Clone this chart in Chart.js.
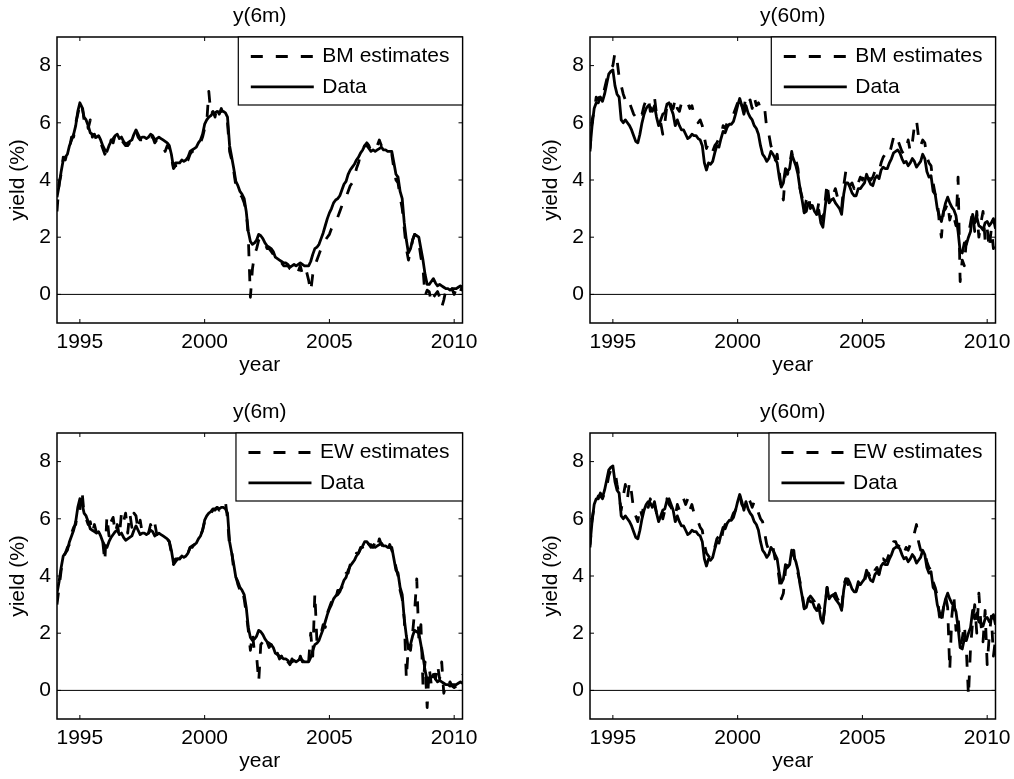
<!DOCTYPE html>
<html>
<head>
<meta charset="utf-8">
<script src="https://cdn.jsdelivr.net/npm/chart.js@4.4.1/dist/chart.umd.min.js"></script>
<style>
  html, body { margin: 0; padding: 0; background: #fff; }
  #fig { position: relative; width: 1014px; height: 779px; overflow: hidden; background: #fff; }
  #fig canvas { position: absolute; }
</style>
</head>
<body>
<div id="fig">
  <canvas id="p1" width="481" height="378" style="left:0px;top:0px"></canvas>
  <canvas id="p2" width="481" height="378" style="left:533px;top:0px"></canvas>
  <canvas id="p3" width="481" height="378" style="left:0px;top:396px"></canvas>
  <canvas id="p4" width="481" height="378" style="left:533px;top:396px"></canvas>
</div>
<script>
// Monthly observations, Feb 1994 .. May 2010
const startYear = 1994;
const startMonth = 2;
const nMonths = 196;
const dates = Array.from({ length: nMonths }, (_, i) => startYear + (startMonth - 1 + i) / 12);

const xTicks = [1995, 2000, 2005, 2010];
const yTicks = [0, 2, 4, 6, 8];

// 6-month yield (%), observed
const y6mData = [].concat(
  [3.4, 3.8, 4.3, 4.7, 4.8, 4.9, 5.2, 5.4, 5.6, 5.9, 6.4],
  [6.7, 6.55, 6.2, 6.1, 5.9, 5.65, 5.6, 5.55, 5.5, 5.55, 5.4, 5.2],
  [5.05, 5.0, 5.2, 5.35, 5.45, 5.55, 5.6, 5.45, 5.5, 5.35, 5.25, 5.3],
  [5.35, 5.4, 5.6, 5.75, 5.6, 5.45, 5.5, 5.5, 5.45, 5.5, 5.6, 5.55],
  [5.4, 5.45, 5.5, 5.45, 5.4, 5.35, 5.3, 5.2, 4.9, 4.45, 4.6, 4.6],
  [4.6, 4.7, 4.65, 4.7, 4.8, 5.0, 5.05, 5.1, 5.15, 5.3, 5.4, 5.6],
  [5.95, 6.1, 6.2, 6.25, 6.35, 6.35, 6.4, 6.35, 6.4, 6.4, 6.35, 6.2],
  [5.2, 4.8, 4.4, 3.95, 3.8, 3.6, 3.5, 3.35, 2.9, 2.2, 1.85, 1.75],
  [1.8, 1.9, 2.1, 2.05, 1.95, 1.8, 1.7, 1.65, 1.6, 1.5, 1.3, 1.25],
  [1.2, 1.15, 1.1, 1.1, 1.05, 0.95, 1.0, 1.05, 1.0, 1.05, 1.1, 1.05],
  [1.0, 1.0, 1.0, 1.15, 1.4, 1.6, 1.65, 1.75, 1.95, 2.15, 2.4, 2.65],
  [2.85, 3.0, 3.2, 3.3, 3.35, 3.45, 3.65, 3.85, 3.95, 4.2, 4.35, 4.45],
  [4.55, 4.7, 4.8, 4.95, 5.05, 5.2, 5.2, 5.1, 5.0, 5.05, 5.0, 5.05],
  [5.1, 5.15, 5.05, 5.05, 5.0, 5.0, 5.0, 4.6, 4.2, 4.1, 3.6, 3.35],
  [2.5, 1.9, 1.45, 1.6, 1.9, 2.1, 2.05, 2.0, 1.6, 1.2, 0.7, 0.35],
  [0.35, 0.45, 0.55, 0.4, 0.3, 0.35, 0.3, 0.25, 0.2, 0.2, 0.15, 0.2],
  [0.2, 0.2, 0.25, 0.3, 0.25]
);

// 6-month yield (%), BM estimates
const y6mBM = [].concat(
  [2.9, 3.9, 4.2, 4.8, 4.7, 5.0, 5.1, 5.5, 5.5, 6.0, 6.3],
  [6.6, 6.7, 6.1, 6.2, 5.8, 6.1, 5.5, 5.6, 5.4, 5.5, 5.3, 5.1],
  [4.9, 5.1, 5.1, 5.4, 5.3, 5.6, 5.5, 5.4, 5.4, 5.3, 5.2, 5.2],
  [5.3, 5.3, 5.5, 5.7, 5.5, 5.4, 5.4, 5.5, 5.4, 5.4, 5.5, 5.5],
  [5.3, 5.4, 5.4, 5.3, 5.2, 5.0, 5.2, 5.1, 4.8, 4.4, 4.5, 4.5],
  [4.5, 4.6, 4.6, 4.6, 4.7, 4.9, 5.0, 5.0, 5.1, 5.2, 5.3, 5.5],
  [5.8, 6.0, 7.1, 6.3, 6.4, 6.2, 6.6, 6.3, 6.5, 6.3, 6.2, 6.0],
  [5.0, 4.7, 4.3, 3.8, 3.7, 3.5, 3.4, 3.2, 2.9, 2.0, -0.1, 0.9],
  [1.4, 1.6, 1.9, 2.0, 1.9, 1.8, 1.6, 1.6, 1.5, 1.4, 1.2, 1.2],
  [1.1, 1.1, 1.0, 1.0, 1.0, 0.9, 0.9, 1.0, 0.9, 0.8, 1.0, 0.7],
  [0.9, 0.8, 0.5, 0.1, 0.7, 1.0, 1.2, 1.4, 1.6, 1.8, 1.9, 2.0],
  [2.1, 2.3, 2.4, 2.6, 2.7, 2.9, 3.1, 3.2, 3.4, 3.6, 3.8, 3.9],
  [4.1, 4.4, 4.6, 4.9, 5.1, 5.2, 5.3, 5.2, 5.0, 5.0, 5.1, 5.2],
  [5.4, 5.2, 5.1, 5.0, 5.0, 4.9, 4.9, 4.4, 4.0, 3.9, 3.4, 3.0],
  [2.3, 1.6, 1.2, 1.5, 1.9, 2.1, 1.9, 1.8, 1.3, 0.9, -0.05, 0.15],
  [0.1, -0.3, -0.1, 0.0, 0.1, -0.1, -0.45, -0.2, 0.15, 0.2, 0.05, 0.2],
  [0.0, 0.2, 0.3, 0.1, 0.3]
);

// 6-month yield (%), EW estimates
const y6mEW = [].concat(
  [3.0, 3.6, 4.2, 4.6, 4.8, 5.0, 5.1, 5.5, 5.7, 5.8, 6.3],
  [6.3, 7.0, 6.2, 6.0, 5.8, 5.9, 5.5, 5.8, 5.5, 5.4, 5.2, 5.2],
  [4.5, 6.1, 5.4, 5.9, 6.05, 5.5, 5.8, 5.4, 6.2, 5.9, 6.2, 5.5],
  [6.2, 5.7, 6.2, 6.1, 5.6, 5.95, 5.5, 5.6, 5.5, 5.5, 5.8, 5.6],
  [5.85, 5.45, 5.5, 5.4, 5.4, 5.3, 5.3, 5.2, 4.8, 4.4, 4.5, 4.6],
  [4.6, 4.7, 4.6, 4.7, 4.8, 5.0, 5.0, 5.1, 5.1, 5.3, 5.4, 5.6],
  [5.9, 6.1, 6.2, 6.2, 6.3, 6.3, 6.4, 6.3, 6.4, 6.5, 6.6, 6.0],
  [5.0, 4.9, 4.2, 4.0, 3.7, 3.5, 3.6, 3.2, 2.7, 2.1, 1.4, 2.0],
  [1.3, 1.2, 0.3, 1.6, 1.7, 1.5, 1.7, 1.5, 1.6, 1.3, 1.2, 1.3],
  [1.1, 1.2, 1.0, 1.15, 1.0, 0.9, 1.1, 1.0, 1.1, 0.95, 1.2, 1.0],
  [1.0, 1.2, 1.0, 2.0, 1.2, 3.4, 1.7, 1.9, 2.0, 2.3, 2.2, 2.7],
  [2.9, 3.1, 3.3, 3.2, 3.5, 3.5, 3.6, 3.9, 4.1, 4.1, 4.4, 4.5],
  [4.5, 4.8, 4.8, 5.0, 5.0, 5.3, 5.2, 5.1, 5.1, 5.0, 5.2, 5.0],
  [5.3, 5.1, 5.0, 5.1, 4.9, 5.1, 4.9, 4.7, 4.3, 4.0, 3.5, 3.2],
  [2.5, 0.4, 1.6, 1.4, 2.0, 2.8, 3.9, 1.8, 2.3, 0.2, 1.0, -0.6],
  [0.8, 0.2, 0.6, 0.4, 0.9, 0.4, 1.0, -0.1, 0.2, 0.1, 0.3, 0.15],
  [0.1, 0.15, 0.2, 0.3, 0.55]
);

// 60-month yield (%), observed
const y60mData = [].concat(
  [5.1, 5.9, 6.5, 6.7, 6.7, 6.9, 6.75, 7.0, 7.35, 7.7, 7.8],
  [7.85, 7.3, 7.0, 6.9, 6.1, 6.0, 6.1, 6.0, 5.9, 5.75, 5.55, 5.35],
  [5.3, 5.6, 6.0, 6.3, 6.5, 6.6, 6.55, 6.4, 6.6, 6.2, 5.9, 6.1],
  [6.3, 6.35, 6.65, 6.7, 6.5, 6.3, 5.9, 6.1, 5.9, 5.75, 5.75, 5.6],
  [5.45, 5.5, 5.6, 5.55, 5.55, 5.45, 5.4, 5.2, 4.6, 4.35, 4.6, 4.55],
  [4.65, 4.95, 5.2, 5.15, 5.45, 5.7, 5.65, 5.85, 5.95, 5.95, 6.05, 6.3],
  [6.6, 6.85, 6.6, 6.3, 6.6, 6.35, 6.2, 6.1, 5.9, 5.8, 5.6, 5.2],
  [4.9, 4.8, 4.65, 4.75, 5.0, 4.9, 4.75, 4.6, 4.1, 3.75, 3.9, 4.4],
  [4.3, 4.4, 4.9, 4.7, 4.5, 4.2, 3.7, 3.3, 2.85, 2.9, 3.2, 3.1],
  [3.1, 2.9, 2.8, 2.95, 2.5, 2.35, 3.0, 3.6, 3.2, 3.3, 3.35, 3.2],
  [3.1, 3.0, 2.8, 3.5, 3.9, 3.9, 3.75, 3.55, 3.45, 3.45, 3.7, 3.7],
  [3.8, 3.9, 4.2, 4.0, 3.85, 3.8, 4.05, 4.15, 4.05, 4.35, 4.45, 4.4],
  [4.4, 4.6, 4.75, 4.95, 5.0, 5.05, 4.95, 4.75, 4.6, 4.65, 4.5, 4.6],
  [4.75, 4.65, 4.45, 4.55, 4.65, 4.9, 4.75, 4.3, 4.1, 4.15, 3.6, 3.5],
  [3.0, 2.75, 2.55, 2.9, 3.2, 3.4, 3.2, 3.05, 2.95, 2.75, 2.2, 1.5],
  [1.45, 1.8, 1.75, 2.0, 2.2, 2.8, 2.5, 2.7, 2.4, 2.35, 2.25, 2.5],
  [2.55, 2.4, 2.5, 2.65, 2.3]
);

// 60-month yield (%), BM estimates
const y60mBM = [].concat(
  [5.0, 6.1, 6.4, 6.9, 6.8, 7.0, 6.9, 7.2, 7.5, 7.8, 7.9],
  [8.0, 8.45, 8.2, 7.6, 7.3, 7.0, 6.8, 6.9, 6.7, 6.5, 6.3, 6.2],
  [6.2, 6.4, 6.3, 6.6, 6.8, 6.9, 6.4, 6.6, 6.9, 6.3, 6.2, 6.0],
  [5.6, 6.0, 6.6, 6.8, 6.6, 6.5, 6.85, 6.5, 6.4, 6.7, 6.6, 6.7],
  [6.7, 6.5, 6.6, 6.3, 6.2, 6.0, 6.1, 5.9, 5.5, 5.1, 5.3, 5.2],
  [5.0, 5.2, 5.3, 5.45, 5.5, 5.9, 5.8, 6.0, 6.1, 6.1, 6.3, 6.5],
  [6.7, 6.9, 6.6, 6.5, 6.9, 6.7, 6.8, 6.5, 6.9, 6.6, 6.7, 6.5],
  [6.6, 6.5, 5.8, 5.6, 5.2, 5.0, 4.7, 4.9, 4.3, 3.7, 3.3, 4.3],
  [4.2, 4.5, 5.0, 4.6, 4.7, 4.4, 3.7, 3.4, 2.9, 3.3, 3.5, 3.0],
  [3.2, 3.1, 2.8, 3.2, 2.7, 2.6, 3.2, 3.9, 3.3, 3.6, 3.5, 3.7],
  [3.4, 3.3, 3.0, 3.8, 4.3, 4.0, 3.8, 3.9, 3.7, 4.0, 3.9, 4.1],
  [4.0, 4.2, 4.3, 4.1, 4.0, 4.1, 4.3, 4.4, 4.3, 4.6, 4.8, 4.9],
  [5.0, 4.9, 5.2, 5.5, 5.6, 5.4, 5.2, 5.0, 4.9, 5.1, 5.4, 5.0],
  [5.3, 5.9, 6.1, 5.5, 5.2, 5.4, 5.3, 4.8, 4.6, 4.5, 3.9, 3.5],
  [3.3, 2.5, 2.0, 2.9, 3.0, 3.2, 2.6, 2.9, 2.7, 2.4, 4.1, 0.45],
  [1.2, 1.0, 1.9, 2.1, 2.5, 2.9, 2.2, 2.9, 2.0, 2.5, 2.9, 1.9],
  [2.3, 1.6, 2.3, 1.6, 1.9]
);

// 60-month yield (%), EW estimates
const y60mEW = [].concat(
  [5.0, 6.0, 6.4, 6.6, 6.8, 6.8, 6.7, 6.9, 7.1, 7.5, 7.7],
  [7.7, 7.7, 7.2, 6.8, 6.3, 6.8, 7.2, 6.7, 7.3, 6.9, 6.3, 6.1],
  [5.9, 6.4, 6.1, 6.6, 6.5, 6.4, 6.7, 6.3, 6.5, 6.2, 6.1, 6.3],
  [6.0, 6.3, 6.7, 6.5, 6.4, 6.2, 6.1, 6.5, 6.3, 6.6, 6.7, 6.5],
  [6.7, 6.3, 6.5, 6.2, 6.0, 5.9, 5.7, 5.6, 5.1, 4.8, 4.7, 4.6],
  [4.8, 5.0, 5.3, 5.4, 5.2, 5.6, 5.8, 5.7, 6.0, 6.0, 6.2, 6.3],
  [6.6, 6.8, 6.5, 6.4, 6.6, 6.7, 6.6, 6.4, 6.6, 6.5, 6.2, 6.0],
  [5.9, 5.5, 5.1, 4.9, 4.8, 5.0, 4.6, 4.4, 3.9, 3.2, 3.4, 4.2],
  [4.4, 4.6, 4.8, 4.9, 4.2, 4.1, 3.8, 3.4, 2.9, 2.8, 3.2, 3.3],
  [3.2, 3.1, 2.7, 3.0, 2.8, 2.4, 2.9, 3.6, 3.3, 3.4, 3.3, 3.4],
  [3.2, 3.1, 2.8, 3.7, 3.9, 3.7, 3.8, 3.6, 3.6, 3.5, 3.8, 3.7],
  [3.9, 3.8, 4.1, 4.1, 3.9, 3.9, 4.2, 4.3, 4.1, 4.5, 4.6, 4.5],
  [4.6, 4.8, 4.9, 5.2, 5.2, 5.0, 5.1, 4.9, 4.8, 5.0, 4.9, 5.1],
  [5.2, 5.5, 5.8, 5.2, 4.9, 5.0, 4.8, 4.5, 4.3, 4.2, 3.8, 3.6],
  [3.3, 2.6, 2.3, 2.9, 3.3, 2.9, 0.7, 2.6, 3.3, 2.1, 2.6, 1.6],
  [1.8, 2.3, 1.4, -0.2, 1.5, 2.4, 3.0, 2.0, 3.4, 2.3, 1.7, 2.8],
  [0.9, 1.9, 2.6, 1.2, 1.8]
);

const FONT_FAMILY = "'Liberation Sans', Arial, Helvetica, sans-serif";
const FONT = { family: FONT_FAMILY, size: 21, weight: 'normal', lineHeight: 1.2 };
const INK = '#000';

// Axes box, inward tick marks, zero reference line and boxed legend
const axesDecor = {
  id: 'axesDecor',
  beforeDatasetsDraw(chart) {
    const { ctx, chartArea: a, scales: { y } } = chart;
    const y0 = y.getPixelForValue(0);
    ctx.save();
    ctx.strokeStyle = INK;
    ctx.lineWidth = 1;
    ctx.beginPath();
    ctx.moveTo(a.left, y0);
    ctx.lineTo(a.right, y0);
    ctx.stroke();
    ctx.restore();
  },
  afterDatasetsDraw(chart) {
    const { ctx, chartArea: a, scales: { x, y } } = chart;
    const tick = 4;
    ctx.save();
    ctx.strokeStyle = INK;
    ctx.lineWidth = 1;
    ctx.beginPath();
    x.ticks.forEach(t => {
      const px = x.getPixelForValue(t.value);
      ctx.moveTo(px, a.bottom); ctx.lineTo(px, a.bottom - tick);
      ctx.moveTo(px, a.top); ctx.lineTo(px, a.top + tick);
    });
    y.ticks.forEach(t => {
      const py = y.getPixelForValue(t.value);
      ctx.moveTo(a.left, py); ctx.lineTo(a.left + tick, py);
      ctx.moveTo(a.right, py); ctx.lineTo(a.right - tick, py);
    });
    ctx.stroke();
    ctx.lineWidth = 1.5;
    ctx.strokeRect(a.left, a.top, a.right - a.left, a.bottom - a.top);

    // legend, upper right corner
    const sets = chart.data.datasets;
    ctx.font = `${FONT.size}px ${FONT_FAMILY}`;
    const textW = Math.max(...sets.map(d => ctx.measureText(d.label).width));
    const padL = 12.5, sample = 63, gap = 8.5, padR = 13;
    const w = padL + sample + gap + textW + padR;
    const h = 68;
    const left = a.right - w, top = a.top;
    ctx.fillStyle = '#fff';
    ctx.fillRect(left, top, w, h);
    ctx.lineWidth = 1.2;
    ctx.strokeRect(left, top, w, h);
    const rows = [19.5, 49.8];
    sets.forEach((d, i) => {
      const ry = top + rows[i];
      ctx.save();
      ctx.strokeStyle = d.borderColor;
      ctx.lineWidth = d.borderWidth;
      ctx.setLineDash(d.borderDash || []);
      ctx.beginPath();
      ctx.moveTo(left + padL, ry);
      ctx.lineTo(left + padL + sample, ry);
      ctx.stroke();
      ctx.restore();
      ctx.fillStyle = INK;
      ctx.textAlign = 'left';
      ctx.textBaseline = 'middle';
      ctx.fillText(d.label, left + padL + sample + gap, ry);
    });
    ctx.restore();
  }
};

function makePanel(id, title, estLabel, estValues, dataValues) {
  const toPoints = vals => dates.map((d, i) => ({ x: d, y: vals[i] }));
  return new Chart(document.getElementById(id), {
    type: 'line',
    data: {
      datasets: [
        {
          label: estLabel,
          data: toPoints(estValues),
          borderColor: INK,
          borderWidth: 2.8,
          borderDash: [12, 13],
          borderCapStyle: 'butt',
          borderJoinStyle: 'round',
          pointRadius: 0,
          tension: 0,
          fill: false,
          order: 1
        },
        {
          label: 'Data',
          data: toPoints(dataValues),
          borderColor: INK,
          borderWidth: 2.8,
          borderJoinStyle: 'round',
          pointRadius: 0,
          tension: 0,
          fill: false,
          order: 0
        }
      ]
    },
    options: {
      responsive: false,
      animation: false,
      devicePixelRatio: 1,
      events: [],
      layout: { padding: { left: 0, right: 18.5, top: 0, bottom: 0 } },
      plugins: {
        legend: { display: false },
        tooltip: { enabled: false },
        title: {
          display: true,
          text: title,
          fullSize: false,
          color: INK,
          font: FONT,
          padding: { top: 3.8, bottom: 8 }
        }
      },
      scales: {
        x: {
          type: 'linear',
          min: dates[0],
          max: dates[dates.length - 1],
          afterBuildTicks: s => { s.ticks = xTicks.map(v => ({ value: v })); },
          afterFit: s => { s.height = 55; s.paddingLeft = 0; s.paddingRight = 0; },
          grid: { display: false, drawTicks: false },
          border: { display: false },
          ticks: {
            callback: v => String(v),
            autoSkip: false,
            maxRotation: 0,
            minRotation: 0,
            padding: 6.5,
            color: INK,
            font: FONT
          },
          title: { display: true, text: 'year', color: INK, font: FONT, padding: { top: 0, bottom: 0 } }
        },
        y: {
          type: 'linear',
          min: -1,
          max: 9,
          afterBuildTicks: s => { s.ticks = yTicks.map(v => ({ value: v })); },
          afterFit: s => { s.width = 57; s.paddingTop = 0; s.paddingBottom = 0; },
          grid: { display: false, drawTicks: false },
          border: { display: false },
          ticks: { padding: 6, color: INK, font: FONT },
          title: { display: true, text: 'yield (%)', color: INK, font: FONT, padding: { top: 5.4, bottom: 0 } }
        }
      }
    },
    plugins: [axesDecor]
  });
}

makePanel('p1', 'y(6m)', 'BM estimates', y6mBM, y6mData);
makePanel('p2', 'y(60m)', 'BM estimates', y60mBM, y60mData);
makePanel('p3', 'y(6m)', 'EW estimates', y6mEW, y6mData);
makePanel('p4', 'y(60m)', 'EW estimates', y60mEW, y60mData);
</script>
</body>
</html>
